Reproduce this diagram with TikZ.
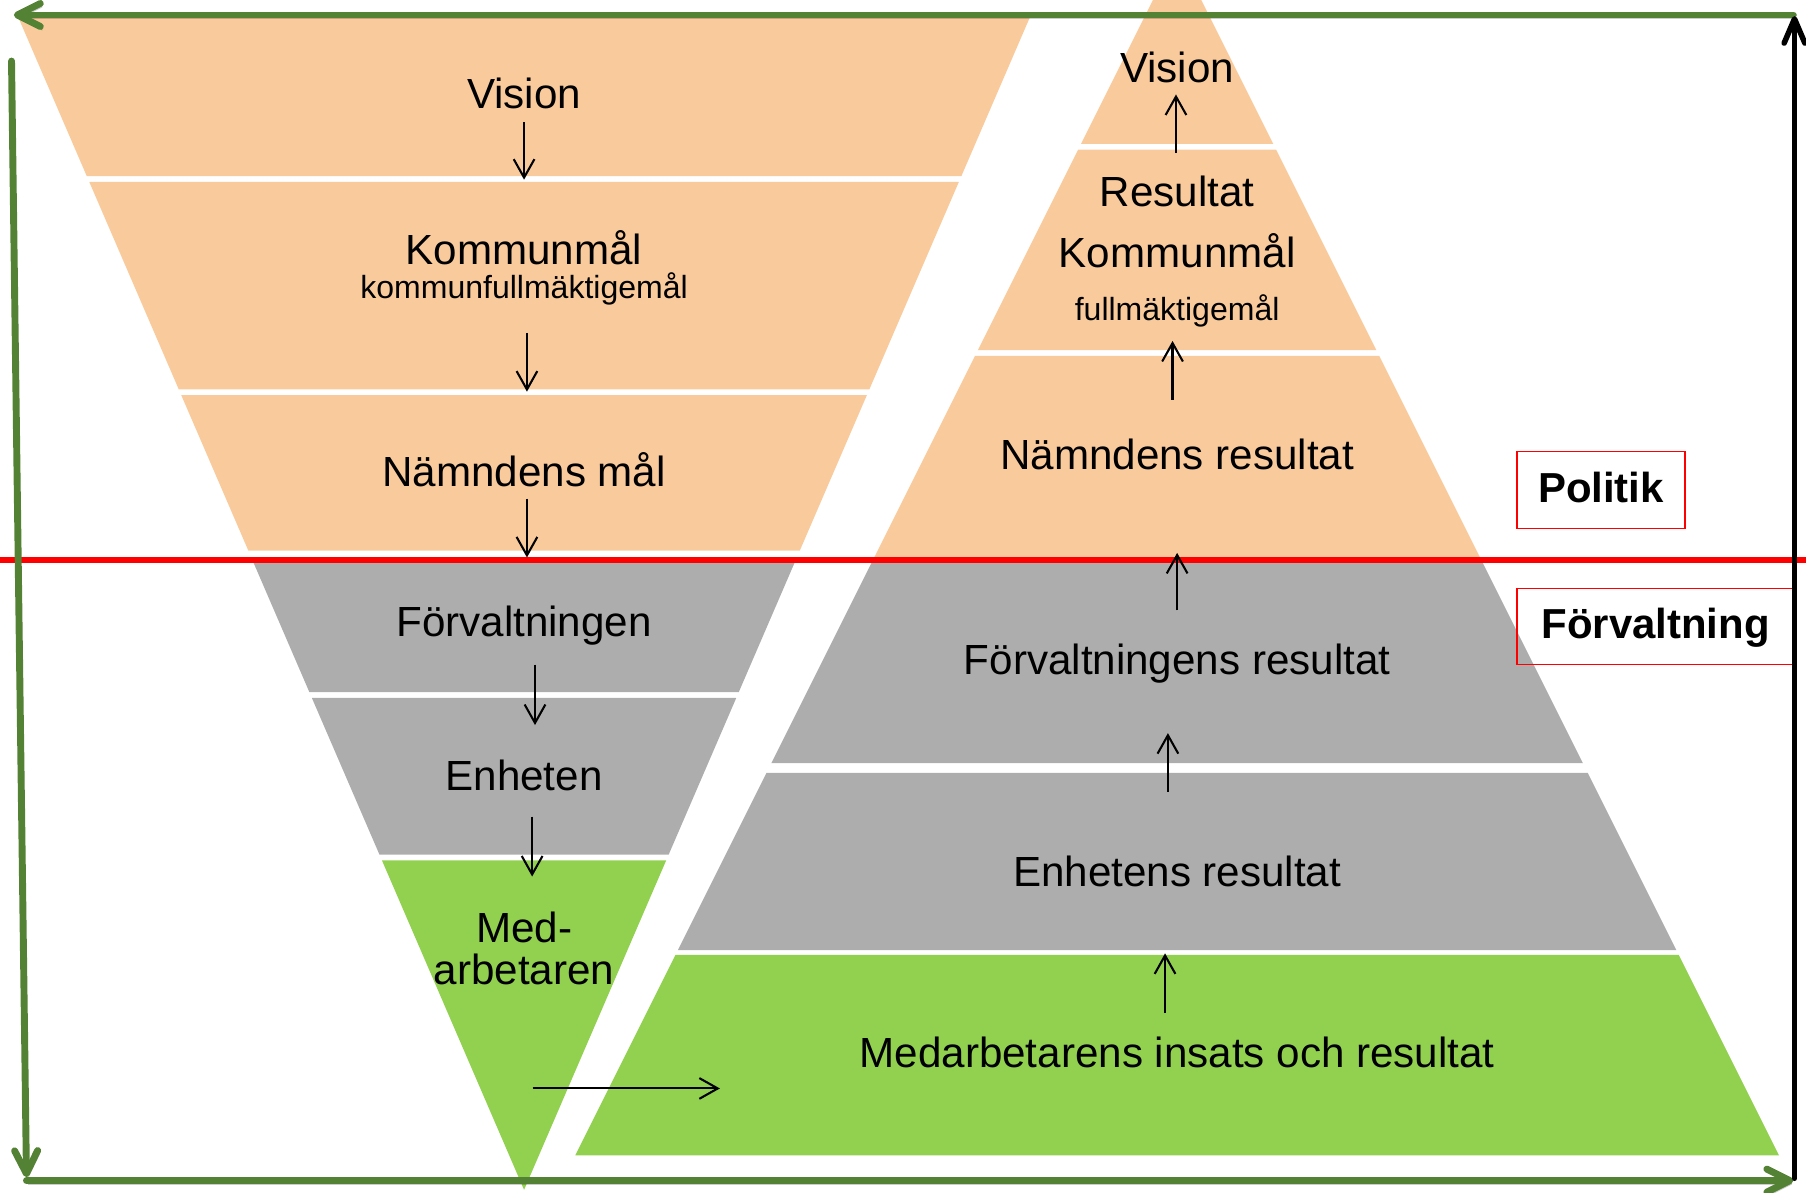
\documentclass[tikz,border=0pt]{standalone}
\usepackage{fontspec}
\setmainfont{Liberation Sans}
\usetikzlibrary{arrows.meta}
\definecolor{orng}{HTML}{F9CB9C}
\definecolor{gry}{RGB}{173,173,173}
\definecolor{grn}{HTML}{92D050}
\definecolor{axgreen}{RGB}{84,130,53}
\tikzset{
  txt/.style={font=\fontsize{18.3}{22}\selectfont, anchor=base, inner sep=0pt},
  smalltxt/.style={font=\fontsize{13.9}{16}\selectfont, anchor=base, inner sep=0pt},
  flow/.style={-{Straight Barb[length=8pt,width=9pt]}, line width=0.9pt},
  box/.style={draw=red, line width=0.7pt, font=\bfseries\fontsize{18.2}{22}\selectfont,
    text height=14pt, text depth=3.5pt, inner sep=0pt},
  axis/.style={draw=axgreen, line width=3pt, line cap=round,
    -{Straight Barb[length=10pt,width=10pt,round]},
    preaction={draw=black, opacity=0.2, transform canvas={shift={(0.8pt,-1.5pt)}}}}
}

\begin{document}
\begin{tikzpicture}[x=0.5pt, y=-0.5pt]
\useasboundingbox (0,0) rectangle (1568,1035);

\foreach \ya/\yb/\col in {13/153/orng, 158/338/orng, 343/478/orng, 484/601/gry, 606/742/gry, 747/1033/grn}{
  \pgfmathsetmacro\wa{0.4314*(1033-\ya)}
  \pgfmathsetmacro\wb{0.4314*(1033-\yb)}
  \fill[\col] (455-\wa,\ya) -- (455+\wa,\ya) -- (455+\wb,\yb) -- (455-\wb,\yb) -- cycle;
}

\foreach \ya/\yb/\col in {0/125/orng, 130/304/orng, 309/486/orng, 486/662.5/gry, 671/825/gry, 829/1003/grn}{
  \pgfmathsetmacro\wa{0.5*(\ya+42)}
  \pgfmathsetmacro\wb{0.5*(\yb+42)}
  \fill[\col] (1022-\wa,\ya) -- (1022+\wa,\ya) -- (1022+\wb,\yb) -- (1022-\wb,\yb) -- cycle;
}

\coordinate (rl) at (0,486);
\coordinate (rr) at (1568,486);
\draw[red, line width=2.6pt] (rl) -- (rr);

\node[txt] (lvis) at (455,94) {Vision};
\node[txt] (lkom) at (455,230) {Kommunmål};
\node[smalltxt] (lkf) at (455,259) {kommunfullmäktigemål};
\node[txt] (lnam) at (455,422.6) {Nämndens mål};
\node[txt] (lforv) at (455,553) {Förvaltningen};
\node[txt] (lenh) at (455,686) {Enheten};
\node[txt] (lmed1) at (455,818) {Med-};
\node[txt] (lmed2) at (455,855) {arbetaren};

\node[txt] (rvis) at (1022,72) {Vision};
\node[txt] (rres) at (1022,179.5) {Resultat};
\node[txt] (rkom) at (1022,232) {Kommunmål};
\node[smalltxt] (rfm) at (1022,278.5) {fullmäktigemål};
\node[txt] (rnam) at (1022,408) {Nämndens resultat};
\node[txt] (rforv) at (1022,586) {Förvaltningens resultat};
\node[txt] (renh) at (1022,770) {Enhetens resultat};
\node[txt] (rmed) at (1022,927) {Medarbetarens insats och resultat};

\node[box, minimum width=73pt, minimum height=33.5pt] (politik) at (1390,425.5) {Politik};
\node[box, minimum width=120.5pt, minimum height=33pt] (forvaltning) at (1437.5,544) {Förvaltning\hspace{4pt}};

\coordinate (d1a) at (455,106);   \coordinate (d1b) at (455,156);
\coordinate (d2a) at (457.5,289); \coordinate (d2b) at (457.5,340);
\coordinate (d3a) at (457.5,433); \coordinate (d3b) at (457.5,484);
\coordinate (d4a) at (464.5,577); \coordinate (d4b) at (464.5,629.5);
\coordinate (d5a) at (462,709);   \coordinate (d5b) at (462,761);
\coordinate (ha) at (462.5,945);  \coordinate (hb) at (625,945);
\draw[flow] (d1a) -- (d1b);
\draw[flow] (d2a) -- (d2b);
\draw[flow] (d3a) -- (d3b);
\draw[flow] (d4a) -- (d4b);
\draw[flow] (d5a) -- (d5b);
\draw[flow] (ha) -- (hb);

\coordinate (u1a) at (1021,133);    \coordinate (u1b) at (1021,82);
\coordinate (u2a) at (1018,347);    \coordinate (u2b) at (1018,296);
\coordinate (u3a) at (1022,530);    \coordinate (u3b) at (1022,480);
\coordinate (u4a) at (1014,687.5);  \coordinate (u4b) at (1014,636.5);
\coordinate (u5a) at (1011.5,879.5);\coordinate (u5b) at (1011.5,827.7);
\draw[flow] (u1a) -- (u1b);
\draw[flow] (u2a) -- (u2b);
\draw[flow] (u3a) -- (u3b);
\draw[flow] (u4a) -- (u4b);
\draw[flow] (u5a) -- (u5b);

\coordinate (tr) at (1557,13);
\coordinate (tl) at (12,13);
\coordinate (lt) at (10,53);
\coordinate (lb) at (23,1022);
\coordinate (bl) at (23,1025);
\coordinate (br) at (1557,1025);
\coordinate (kt) at (1558,14);
\coordinate (kb) at (1558,1023);
\draw[axis] (tr) -- (tl);
\draw[axis] (lt) -- (lb);
\draw[axis] (bl) -- (br);
\draw[line width=2.4pt, line cap=round, -{Straight Barb[length=10.5pt,width=9pt,round]}] (kb) -- (kt);

\end{tikzpicture}
\end{document}
